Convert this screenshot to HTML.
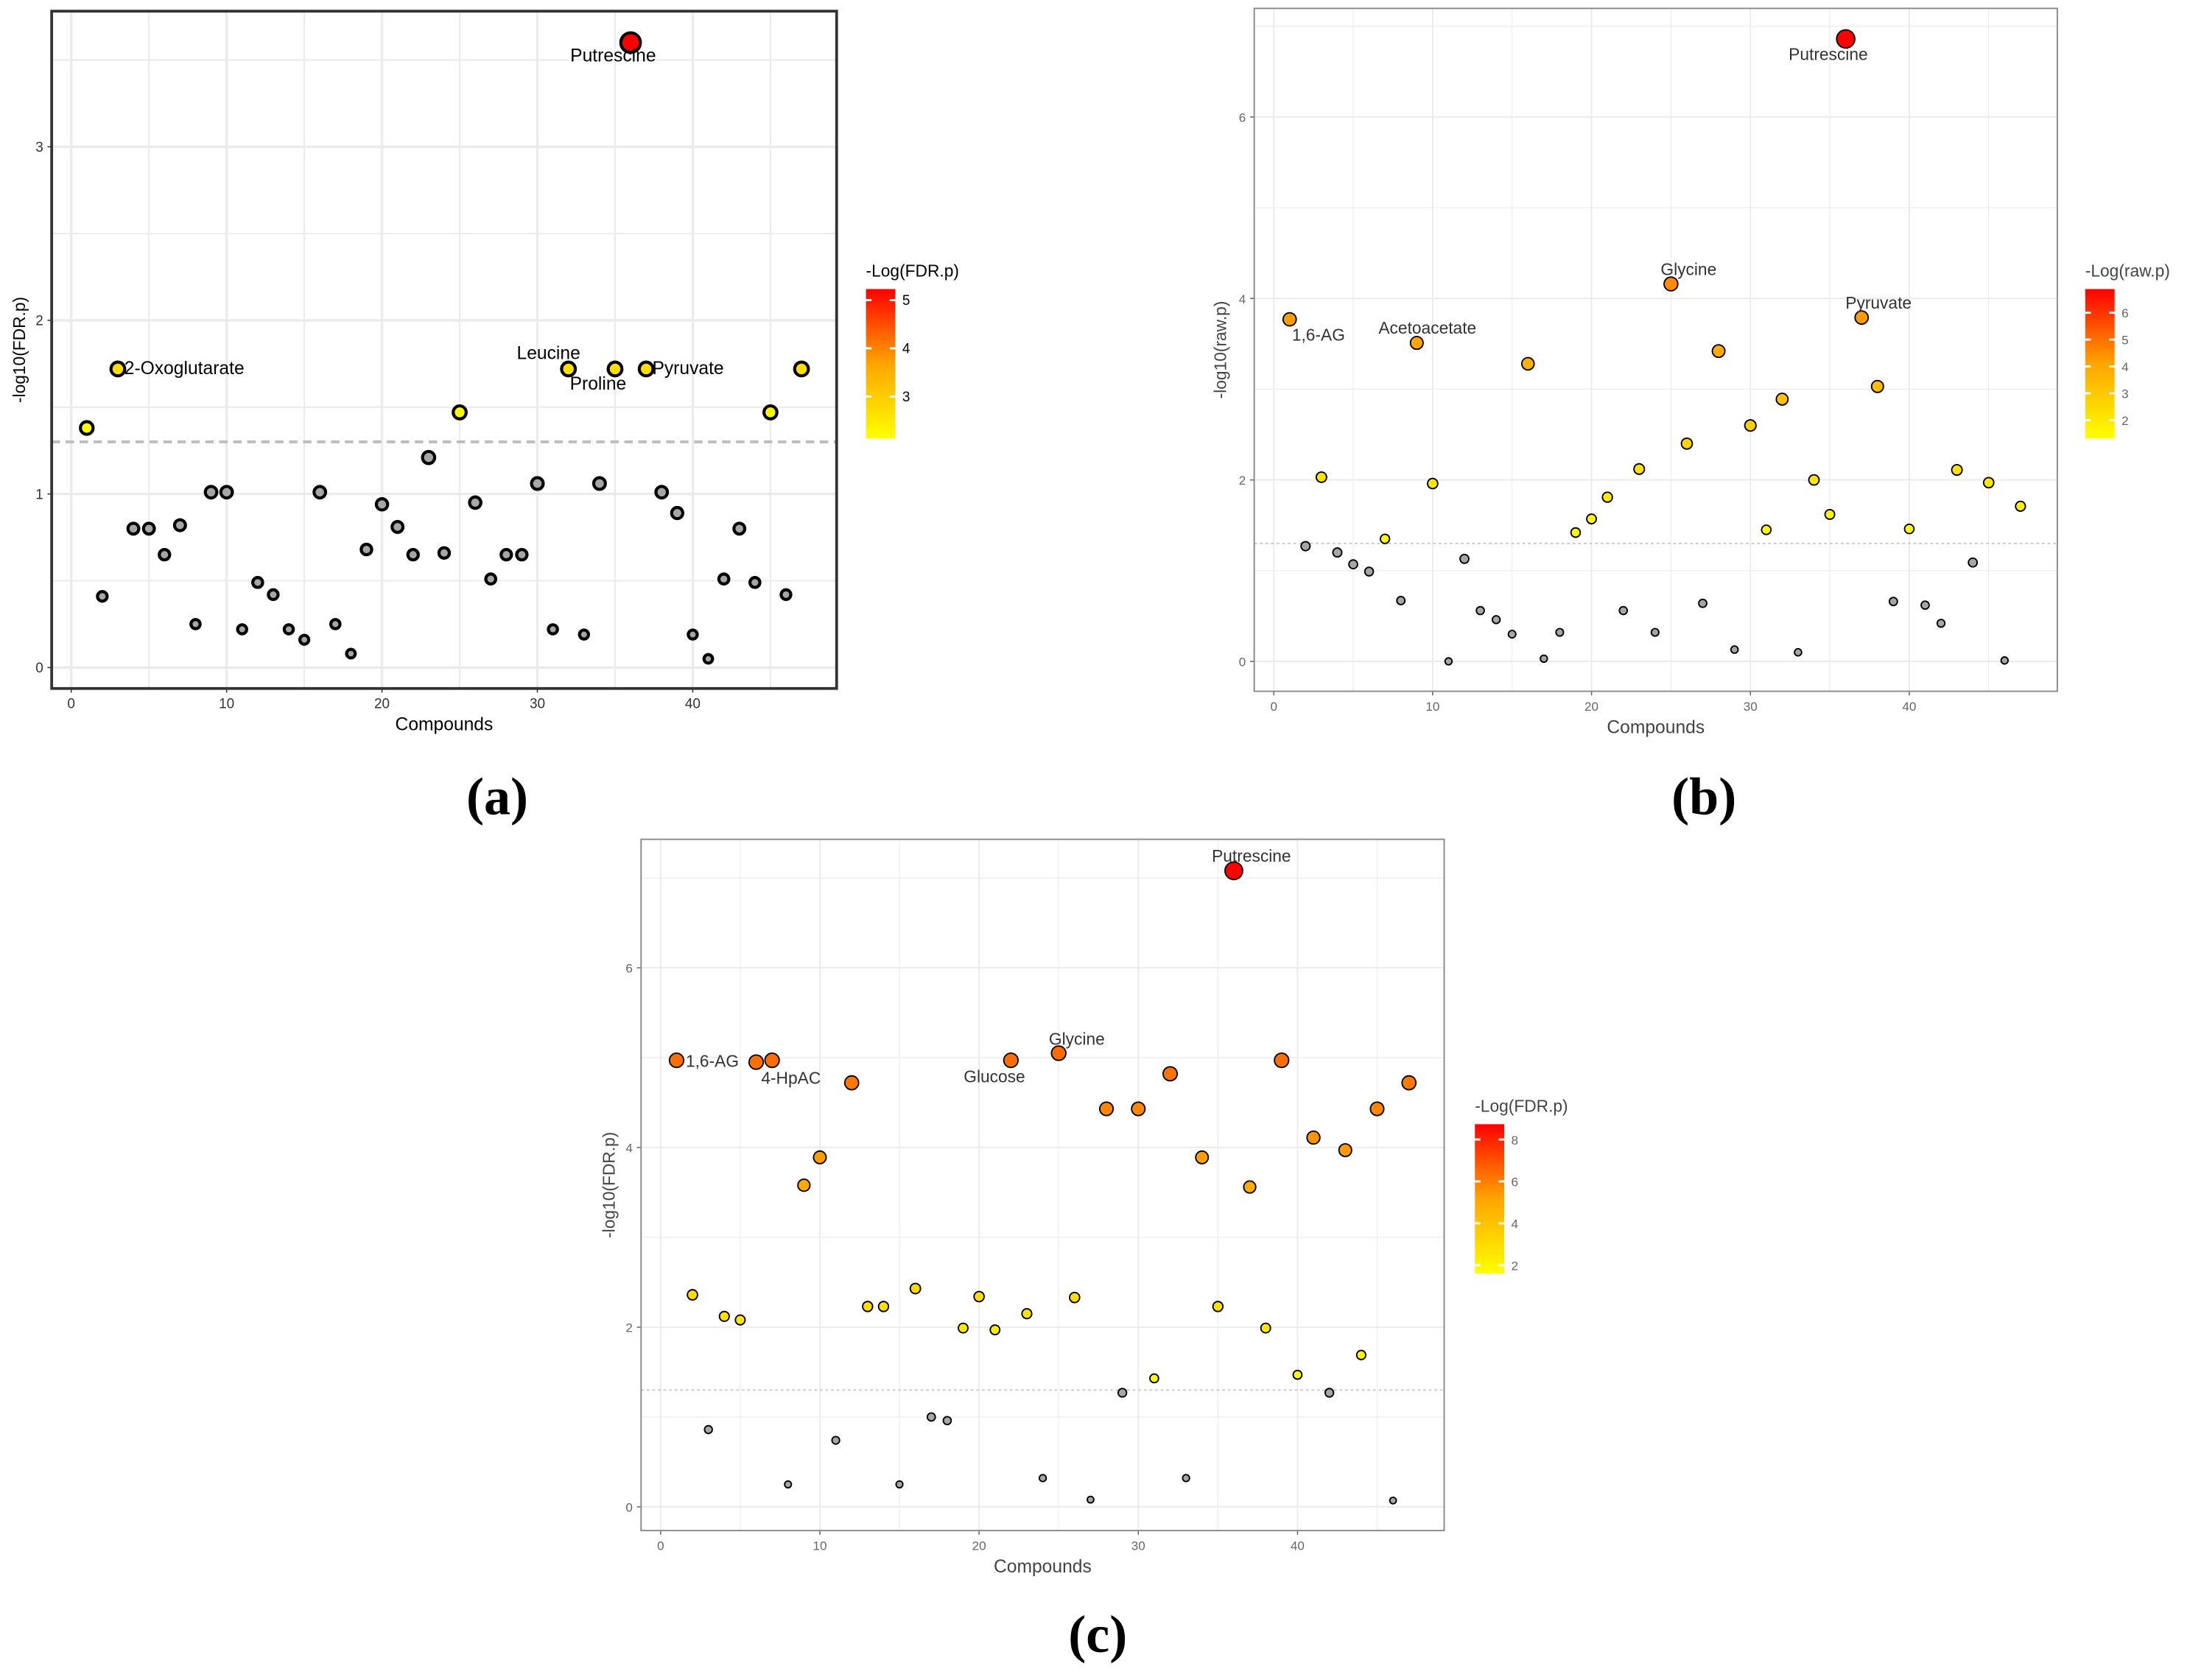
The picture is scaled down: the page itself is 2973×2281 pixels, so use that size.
<!DOCTYPE html>
<html><head><meta charset="utf-8">
<style>
html,body{margin:0;padding:0;background:#fff;}
svg{display:block;font-family:"Liberation Sans",sans-serif;}
</style></head>
<body>
<svg id="root" width="2973" height="2281" viewBox="0 0 1568 1203" preserveAspectRatio="none" xmlns="http://www.w3.org/2000/svg">
<defs>
<linearGradient id="gradA" x1="0" y1="1" x2="0" y2="0"><stop offset="0" stop-color="#ffff00"/><stop offset="0.5" stop-color="#ffa500"/><stop offset="1" stop-color="#ff0000"/></linearGradient>
</defs>
</svg>
<script>
// Panel A data
const compoundsA = Array.from({length:47},(_,i)=>i+1);
const valuesA = [1.38,0.41,1.72,0.8,0.8,0.65,0.82,0.25,1.01,1.01,0.22,0.49,0.42,0.22,0.16,1.01,0.25,0.08,0.68,0.94,0.81,0.65,1.21,0.66,1.47,0.95,0.51,0.65,0.65,1.06,0.22,1.72,0.19,1.06,1.72,3.6,1.72,1.01,0.89,0.19,0.05,0.51,0.8,0.49,1.47,0.42,1.72];
const xTicksA = [0,10,20,30,40];
const yTicksA = [0,1,2,3];
const legendTicksA = [3,4,5];
const legendRangeA = [2.13,5.23];
// Panel B data
const valuesB = [3.77,1.27,2.03,1.2,1.07,0.99,1.35,0.67,3.51,1.96,0.0,1.13,0.56,0.46,0.3,3.28,0.03,0.32,1.42,1.57,1.81,0.56,2.12,0.32,4.16,2.4,0.64,3.42,0.13,2.6,1.45,2.89,0.1,2.0,1.62,6.86,3.79,3.03,0.66,1.46,0.62,0.42,2.11,1.09,1.97,0.01,1.71];
const yTicksB = [0,2,4,6];
const legendTicksB = [2,3,4,5,6];
const legendRangeB = [1.32,6.88];
// Panel C data
const valuesC = [4.97,2.36,0.86,2.12,2.08,4.95,4.97,0.25,3.58,3.89,0.74,4.72,2.23,2.23,0.25,2.43,1.0,0.96,1.99,2.34,1.97,4.97,2.15,0.32,5.05,2.33,0.08,4.43,1.27,4.43,1.43,4.82,0.32,3.89,2.23,7.08,3.56,1.99,4.97,1.47,4.11,1.27,3.97,1.69,4.43,0.07,4.72];
const yTicksC = [0,2,4,6];
const legendTicksC = [2,4,6,8];
const legendRangeC = [1.6,8.73];
const threshold = 1.3;

const NS="http://www.w3.org/2000/svg";
const root=document.getElementById('root');
function mk(tag,attrs,parent,txt){const e=document.createElementNS(NS,tag);for(const k in attrs)e.setAttribute(k,attrs[k]);if(txt!==undefined)e.textContent=txt;(parent||root).appendChild(e);return e;}
function colorFor(v,min,max){let t=(v-min)/(max-min);t=Math.max(0,Math.min(1,t));const g=Math.round(255*Math.pow(1-t,0.85));return `rgb(255,${g},0)`;}

function panel(cfg){
  const g=mk('g',{});
  
  
  const X=v=>cfg.x0+v*cfg.xs, Y=v=>cfg.y0-v*cfg.ys;
  const gridMaxY=cfg.gridMax;
  for(let v=5;v<=45;v+=10){const l=mk('line',{x1:X(v),x2:X(v),y1:cfg.top,y2:cfg.bottom,stroke:'#ebebeb','stroke-width':cfg.gw*0.6},g);}
  for(let v=cfg.ystep/2;v<=gridMaxY;v+=cfg.ystep){const l=mk('line',{x1:cfg.left,x2:cfg.right,y1:Y(v),y2:Y(v),stroke:'#ebebeb','stroke-width':cfg.gw*0.6},g);}
  xTicksA.forEach(v=>{const l=mk('line',{x1:X(v),x2:X(v),y1:cfg.top,y2:cfg.bottom,stroke:'#ebebeb','stroke-width':cfg.gw},g);
    const t=mk('text',{x:X(v),y:cfg.bottom+14,'font-size':cfg.fs,'text-anchor':'middle',fill:cfg.tickc},g,String(v));
    mk('line',{x1:X(v),x2:X(v),y1:cfg.bottom,y2:cfg.bottom+3,stroke:cfg.tickc,'stroke-width':0.8},g);});
  cfg.yticks.forEach(v=>{const l=mk('line',{x1:cfg.left,x2:cfg.right,y1:Y(v),y2:Y(v),stroke:'#ebebeb','stroke-width':cfg.gw},g);
    const t=mk('text',{x:cfg.left-6,y:Y(v)+3.5,'font-size':cfg.fs,'text-anchor':'end',fill:cfg.tickc},g,String(v));
    mk('line',{x1:cfg.left-3,x2:cfg.left,y1:Y(v),y2:Y(v),stroke:cfg.tickc,'stroke-width':0.8},g);});
  const th=mk('line',{x1:cfg.left,x2:cfg.right,y1:Y(threshold),y2:Y(threshold),stroke:cfg.threshc,'stroke-width':cfg.threshw,'stroke-dasharray':cfg.dash},g);
  
  const vals=cfg.values;const sig=vals.filter(v=>v>threshold);const mn=Math.min(...sig),mx=Math.max(...sig);const vmax=Math.max(...vals);
  vals.forEach((v,i)=>{const c=compoundsA[i];const r=cfg.rmin+(v/vmax)*(cfg.rmax-cfg.rmin);
    const fill=v>threshold?colorFor(v,mn,mx):'#a6a6a6';
    const p=mk('circle',{cx:X(c),cy:Y(v),r:r,fill:fill,stroke:'#000','stroke-width':cfg.sw},g);
    });
  const f=mk('rect',{x:cfg.left,y:cfg.top,width:cfg.right-cfg.left,height:cfg.bottom-cfg.top,fill:'none',stroke:cfg.framec,'stroke-width':cfg.framew},g);
  
  cfg.labels.forEach(L=>{const t=mk('text',{x:L[1],y:L[2],'font-size':cfg.lfs,'text-anchor':L[3],fill:cfg.labc},g,L[0]);});
  const xt=mk('text',{x:(cfg.left+cfg.right)/2,y:cfg.bottom+30,'font-size':13,'text-anchor':'middle',fill:cfg.titlec},g,'Compounds');
  
  const yt=mk('text',{x:0,y:0,'font-size':12,'text-anchor':'middle',fill:cfg.titlec,transform:`translate(${cfg.ytx},${(cfg.top+cfg.bottom)/2}) rotate(-90)`},g,cfg.ytitle);
  
  const lg=cfg.leg;
  const lt=mk('text',{x:lg.x,y:lg.y-9,'font-size':12,fill:cfg.titlec},g,lg.title);
  const bar=mk('rect',{x:lg.x,y:lg.y,width:21,height:lg.h,fill:'url(#gradA)'},g);
  const lmn=lg.range[0],lmx=lg.range[1];
  const LY=v=>lg.y+lg.h-(v-lmn)/(lmx-lmn)*lg.h;
  lg.ticks.forEach(v=>{const y=LY(v);mk('line',{x1:lg.x,x2:lg.x+4,y1:y,y2:y,stroke:'#fff','stroke-width':1.5},g);mk('line',{x1:lg.x+17,x2:lg.x+21,y1:y,y2:y,stroke:'#fff','stroke-width':1.5},g);
    const t=mk('text',{x:lg.x+26,y:y+3.5,'font-size':cfg.fs,fill:cfg.legtc},g,String(v));});
}

panel({name:'panel-a',values:valuesA,x0:51,xs:11.125,y0:478,ys:124.3,left:37,right:599,top:8,bottom:493,gridMax:3.9,ystep:1,yticks:yTicksA,
  gw:1.8,fs:10,tickc:'#333',threshc:'#bdbdbd',threshw:2,dash:'6,4',rmin:3,rmax:7,sw:2.2,framec:'#333',framew:2,lfs:13,labc:'#000',titlec:'#000',ytx:18,ytitle:'-log10(FDR.p)',
  labels:[['Putrescine',439,44,'middle'],['2-Oxoglutarate',89,268,'start'],['Leucine',370,257,'start'],['Proline',408,279,'start'],['Pyruvate',467,268,'start']],
  leg:{x:620,y:207,h:107,title:'-Log(FDR.p)',ticks:legendTicksA,range:legendRangeA},legtc:'#000'});

panel({name:'panel-b',values:valuesB,x0:912,xs:11.375,y0:473.6,ys:64.97,left:898,right:1473,top:6,bottom:495,gridMax:7,ystep:2,yticks:yTicksB,
  gw:1,fs:9,tickc:'#666',threshc:'#c8c8c8',threshw:1,dash:'2,2',rmin:2.5,rmax:6.5,sw:1,framec:'#888',framew:1,lfs:12,labc:'#333',titlec:'#444',ytx:878,ytitle:'-log10(raw.p)',
  labels:[['Putrescine',1309,43,'middle'],['Glycine',1209,197,'middle'],['Pyruvate',1345,221,'middle'],['1,6-AG',925,244,'start'],['Acetoacetate',987,239,'start']],
  leg:{x:1493,y:207,h:107,title:'-Log(raw.p)',ticks:legendTicksB,range:legendRangeB},legtc:'#666'});

panel({name:'panel-c',values:valuesC,x0:473,xs:11.4,y0:1079,ys:64.33,left:459,right:1034,top:601,bottom:1096,gridMax:7.3,ystep:2,yticks:yTicksC,
  gw:1,fs:9,tickc:'#666',threshc:'#c8c8c8',threshw:1,dash:'2,2',rmin:2.3,rmax:6.3,sw:1,framec:'#888',framew:1,lfs:12,labc:'#333',titlec:'#444',ytx:440,ytitle:'-log10(FDR.p)',
  labels:[['Putrescine',896,617,'middle'],['Glycine',771,748,'middle'],['Glucose',712,775,'middle'],['1,6-AG',491,764,'start'],['4-HpAC',545,776,'start']],
  leg:{x:1056,y:805,h:107,title:'-Log(FDR.p)',ticks:legendTicksC,range:legendRangeC},legtc:'#666'});

[['(a)',356,583],['(b)',1220,583],['(c)',786,1183]].forEach(c=>{const t=mk('text',{x:c[1],y:c[2],'font-size':38,'font-weight':'bold','text-anchor':'middle','font-family':'Liberation Serif, serif',fill:'#000'},root,c[0]);
  });
</script>
</body></html>
